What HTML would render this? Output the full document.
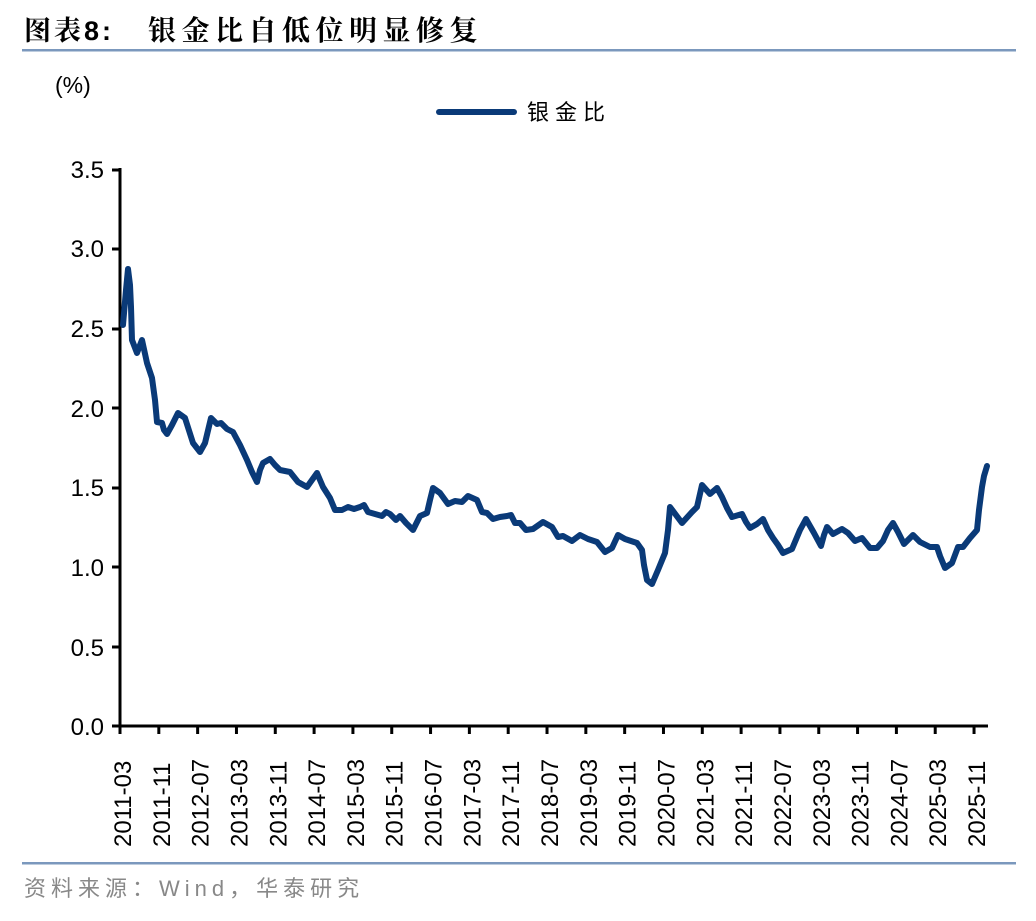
<!DOCTYPE html>
<html><head><meta charset="utf-8"><style>
body{margin:0;background:#fff;}
svg text{font-family:"Liberation Sans","Noto Sans CJK SC",sans-serif;}
</style></head><body>
<svg width="1036" height="916" viewBox="0 0 1036 916" xmlns="http://www.w3.org/2000/svg">
<text x="24" y="40" font-size="27" font-weight="bold" fill="#000" style="font-family:'Liberation Sans','Noto Serif CJK SC',serif;letter-spacing:3px">图表8:</text>
<text x="148" y="40" font-size="28" font-weight="bold" fill="#000" style="font-family:'Noto Serif CJK SC','Noto Sans CJK SC',serif;letter-spacing:5.5px">银金比自低位明显修复</text>
<rect x="22" y="49" width="994" height="2.5" fill="#7b98bd"/>
<text x="55" y="93" font-size="23" fill="#000">(%)</text>
<line x1="439" y1="112" x2="514" y2="112" stroke="#0a3a78" stroke-width="6" stroke-linecap="round"/>
<text x="527" y="120" font-size="22" fill="#000" style="letter-spacing:6px">银金比</text>
<g font-size="24" fill="#000" text-anchor="end">
<text x="104" y="735">0.0</text>
<text x="104" y="656">0.5</text>
<text x="104" y="576">1.0</text>
<text x="104" y="496">1.5</text>
<text x="104" y="417">2.0</text>
<text x="104" y="337">2.5</text>
<text x="104" y="257">3.0</text>
<text x="104" y="178">3.5</text>
</g>
<g stroke="#000" stroke-width="3">
<line x1="120" y1="168" x2="120" y2="727"/>
<line x1="119" y1="726" x2="988" y2="726"/>
<line x1="112" y1="726" x2="120" y2="726"/>
<line x1="112" y1="647" x2="120" y2="647"/>
<line x1="112" y1="567" x2="120" y2="567"/>
<line x1="112" y1="488" x2="120" y2="488"/>
<line x1="112" y1="408" x2="120" y2="408"/>
<line x1="112" y1="329" x2="120" y2="329"/>
<line x1="112" y1="249" x2="120" y2="249"/>
<line x1="112" y1="170" x2="120" y2="170"/>
</g>
<g id="xt"></g>
<polyline fill="none" stroke="#0a3a78" stroke-width="6" stroke-linejoin="round" stroke-linecap="round" points="
123,325 126,290 128,269 130,285 131,307 132,340 137,353 140,345 142,340 147,363 152,378 155,400 157,422 162,423 164,430 167,434 172,425 178,413 185,418 193,443 200,452 205,443 211,418 217,424 221,423 227,429 233,432 240,445 247,460 252,472 257,482 260,470 263,463 270,459 275,465 280,470 290,472 294,477 298,482 307,487 312,480 317,473 323,487 330,498 335,510 342,510 348,507 354,509 360,507 364,505 368,512 375,514 382,516 386,512 390,514 396,520 400,516 406,523 413,530 420,516 427,513 430,500 433,488 440,493 448,504 455,501 462,502 468,496 477,500 482,512 487,513 493,519 500,517 507,516 511,515 515,523 520,523 526,530 533,529 543,522 552,527 558,537 563,536 572,541 580,535 588,539 597,542 605,552 612,548 618,535 625,539 637,543 642,550 644,565 647,580 652,584 658,570 665,553 668,530 670,507 676,515 682,523 692,512 697,507 702,485 710,494 717,488 722,497 727,508 732,517 742,514 746,522 750,528 757,524 763,519 768,530 773,538 778,545 783,553 792,549 800,530 806,519 814,533 821,546 824,535 827,527 833,534 842,529 848,533 855,541 862,538 870,548 877,548 883,541 888,530 893,523 898,532 904,544 913,535 920,542 930,547 937,547 940,556 945,568 952,563 958,547 963,547 970,538 977,530 979,510 982,487 984,476 987,466"/>
<rect x="22" y="862" width="994" height="2.5" fill="#7b98bd"/>
<text x="24" y="896" font-size="22" fill="#888" style="letter-spacing:5px">资料来源：Wind，华泰研究</text>
</svg>
<script>
var g=document.getElementById('xt');
var labs=["2011-03","2011-11","2012-07","2013-03","2013-11","2014-07","2015-03","2015-11","2016-07","2017-03","2017-11","2018-07","2019-03","2019-11","2020-07","2021-03","2021-11","2022-07","2023-03","2023-11","2024-07","2025-03","2025-11"];
var h="";
for(var i=0;i<labs.length;i++){var x=120+i*38.82;
h+='<line x1="'+x+'" y1="726" x2="'+x+'" y2="734" stroke="#000" stroke-width="3"/>';
h+='<text transform="translate('+(x+11)+',847) rotate(-90)" font-size="24" fill="#000">'+labs[i]+'</text>';}
g.innerHTML=h;
</script>
</body></html>
